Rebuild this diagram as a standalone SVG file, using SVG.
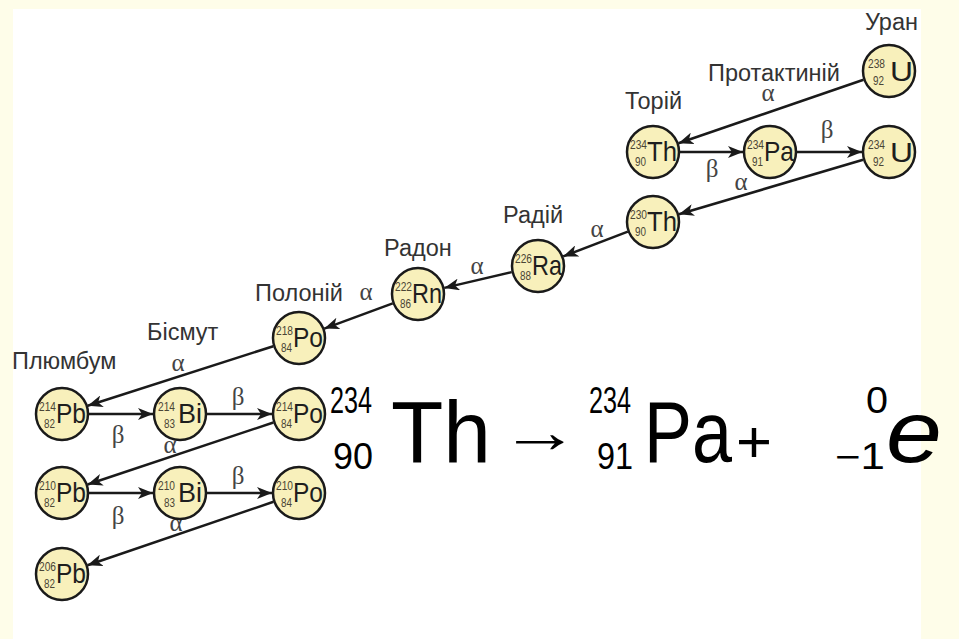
<svg xmlns="http://www.w3.org/2000/svg" width="959" height="639" viewBox="0 0 959 639">
<defs>
<marker id="ah" markerUnits="userSpaceOnUse" markerWidth="16" markerHeight="12" refX="15" refY="6" orient="auto">
<path d="M0,0 L15,6 L0,12 L4,6 z" fill="#1a1a1a"/>
</marker>
<style>
.bg{fill:#fefde9}
.nd circle{fill:#f8f0bb;stroke:#1a1a1a;stroke-width:2.5}
.m{font-family:"Liberation Sans",Arial,sans-serif;font-size:13.5px;fill:#4a4535}
.s{font-family:"Liberation Sans",Arial,sans-serif;font-size:28px;fill:#1e1e1e}
.lbl{font-family:"Liberation Sans",Arial,sans-serif;font-size:23.5px;fill:#333}
.gr{font-family:"Liberation Serif","Times New Roman",serif;font-size:25px;fill:#444;text-anchor:middle}
.cn line{stroke:#1a1a1a;stroke-width:2.5;marker-end:url(#ah)}
.eq{font-family:"Liberation Sans",Arial,sans-serif;fill:#000}
</style>
</defs>
<rect class="bg" x="0" y="0" width="959" height="639"/>
<rect x="13" y="9" width="908" height="630" fill="#ffffff"/>

<g id="connectors" class="cn">
<line x1="863.5" y1="79.8" x2="678.5" y2="143.2"/>
<line x1="680" y1="152" x2="743" y2="152"/>
<line x1="797" y1="152" x2="862" y2="152"/>
<line x1="863.1" y1="159.7" x2="678.9" y2="214.3"/>
<line x1="627.8" y1="231.6" x2="563.2" y2="256.4"/>
<line x1="511.7" y1="272.1" x2="444.3" y2="287.9"/>
<line x1="392.7" y1="303.4" x2="324.3" y2="328.6"/>
<line x1="273.3" y1="346.2" x2="87.7" y2="405.8"/>
<line x1="89" y1="414" x2="153" y2="414"/>
<line x1="207" y1="414" x2="272" y2="414"/>
<line x1="273.4" y1="422.5" x2="87.6" y2="484.5"/>
<line x1="89" y1="493" x2="153" y2="493"/>
<line x1="207" y1="493" x2="272" y2="493"/>
<line x1="273.5" y1="501.8" x2="87.5" y2="565.2"/>
</g>

<g id="decay-labels">
<text class="gr" x="768" y="101">α</text>
<text class="gr" x="712" y="177">β</text>
<text class="gr" x="827" y="138">β</text>
<text class="gr" x="741" y="190">α</text>
<text class="gr" x="597" y="237">α</text>
<text class="gr" x="477" y="274">α</text>
<text class="gr" x="366" y="300">α</text>
<text class="gr" x="178" y="371">α</text>
<text class="gr" x="118" y="443">β</text>
<text class="gr" x="238" y="405">β</text>
<text class="gr" x="170" y="453">α</text>
<text class="gr" x="118" y="524">β</text>
<text class="gr" x="238" y="484">β</text>
<text class="gr" x="176" y="531">α</text>
</g>

<g id="names">
<text class="lbl" x="865" y="30">Уран</text>
<text class="lbl" x="708" y="81">Протактиній</text>
<text class="lbl" x="625" y="109">Торій</text>
<text class="lbl" x="503" y="223">Радій</text>
<text class="lbl" x="384" y="256">Радон</text>
<text class="lbl" x="255" y="301">Полоній</text>
<text class="lbl" x="147" y="340">Бісмут</text>
<text class="lbl" x="12" y="369">Плюмбум</text>
</g>

<g id="n-U238" class="nd"><circle cx="889" cy="71" r="26"/><text class="m" x="868" y="68" textLength="17" lengthAdjust="spacingAndGlyphs">238</text><text class="m" x="873" y="85" textLength="11" lengthAdjust="spacingAndGlyphs">92</text><text class="s" x="890" y="81" font-size="30" textLength="23" lengthAdjust="spacingAndGlyphs">U</text></g>
<g id="n-Th234" class="nd"><circle cx="653" cy="152" r="26"/><text class="m" x="630" y="149" textLength="17" lengthAdjust="spacingAndGlyphs">234</text><text class="m" x="635" y="166" textLength="11" lengthAdjust="spacingAndGlyphs">90</text><text class="s" x="647" y="161" textLength="30" lengthAdjust="spacingAndGlyphs">Th</text></g>
<g id="n-Pa234" class="nd"><circle cx="770" cy="152" r="26"/><text class="m" x="747" y="149" textLength="17" lengthAdjust="spacingAndGlyphs">234</text><text class="m" x="752" y="166" textLength="11" lengthAdjust="spacingAndGlyphs">91</text><text class="s" x="764" y="161" textLength="30" lengthAdjust="spacingAndGlyphs">Pa</text></g>
<g id="n-U234" class="nd"><circle cx="889" cy="152" r="26"/><text class="m" x="868" y="149" textLength="17" lengthAdjust="spacingAndGlyphs">234</text><text class="m" x="873" y="166" textLength="11" lengthAdjust="spacingAndGlyphs">92</text><text class="s" x="890" y="162" font-size="30" textLength="23" lengthAdjust="spacingAndGlyphs">U</text></g>
<g id="n-Th230" class="nd"><circle cx="653" cy="222" r="26"/><text class="m" x="630" y="219" textLength="17" lengthAdjust="spacingAndGlyphs">230</text><text class="m" x="635" y="236" textLength="11" lengthAdjust="spacingAndGlyphs">90</text><text class="s" x="647" y="231" textLength="30" lengthAdjust="spacingAndGlyphs">Th</text></g>
<g id="n-Ra226" class="nd"><circle cx="538" cy="266" r="26"/><text class="m" x="515" y="263" textLength="17" lengthAdjust="spacingAndGlyphs">226</text><text class="m" x="520" y="280" textLength="11" lengthAdjust="spacingAndGlyphs">88</text><text class="s" x="532" y="275" textLength="30" lengthAdjust="spacingAndGlyphs">Ra</text></g>
<g id="n-Rn222" class="nd"><circle cx="418" cy="294" r="26"/><text class="m" x="395" y="291" textLength="17" lengthAdjust="spacingAndGlyphs">222</text><text class="m" x="400" y="308" textLength="11" lengthAdjust="spacingAndGlyphs">86</text><text class="s" x="412" y="303" textLength="30" lengthAdjust="spacingAndGlyphs">Rn</text></g>
<g id="n-Po218" class="nd"><circle cx="299" cy="338" r="26"/><text class="m" x="276" y="335" textLength="17" lengthAdjust="spacingAndGlyphs">218</text><text class="m" x="281" y="352" textLength="11" lengthAdjust="spacingAndGlyphs">84</text><text class="s" x="293" y="347" textLength="30" lengthAdjust="spacingAndGlyphs">Po</text></g>
<g id="n-Pb214" class="nd"><circle cx="62" cy="414" r="26"/><text class="m" x="39" y="411" textLength="17" lengthAdjust="spacingAndGlyphs">214</text><text class="m" x="44" y="428" textLength="11" lengthAdjust="spacingAndGlyphs">82</text><text class="s" x="56" y="423" textLength="30" lengthAdjust="spacingAndGlyphs">Pb</text></g>
<g id="n-Bi214" class="nd"><circle cx="180" cy="414" r="26"/><text class="m" x="158" y="411" textLength="17" lengthAdjust="spacingAndGlyphs">214</text><text class="m" x="164" y="428" textLength="11" lengthAdjust="spacingAndGlyphs">83</text><text class="s" x="178" y="423" textLength="24" lengthAdjust="spacingAndGlyphs">Bi</text></g>
<g id="n-Po214" class="nd"><circle cx="299" cy="414" r="26"/><text class="m" x="276" y="411" textLength="17" lengthAdjust="spacingAndGlyphs">214</text><text class="m" x="281" y="428" textLength="11" lengthAdjust="spacingAndGlyphs">84</text><text class="s" x="293" y="423" textLength="30" lengthAdjust="spacingAndGlyphs">Po</text></g>
<g id="n-Pb210" class="nd"><circle cx="62" cy="493" r="26"/><text class="m" x="39" y="490" textLength="17" lengthAdjust="spacingAndGlyphs">210</text><text class="m" x="44" y="507" textLength="11" lengthAdjust="spacingAndGlyphs">82</text><text class="s" x="56" y="502" textLength="30" lengthAdjust="spacingAndGlyphs">Pb</text></g>
<g id="n-Bi210" class="nd"><circle cx="180" cy="493" r="26"/><text class="m" x="158" y="490" textLength="17" lengthAdjust="spacingAndGlyphs">210</text><text class="m" x="164" y="507" textLength="11" lengthAdjust="spacingAndGlyphs">83</text><text class="s" x="178" y="502" textLength="24" lengthAdjust="spacingAndGlyphs">Bi</text></g>
<g id="n-Po210" class="nd"><circle cx="299" cy="493" r="26"/><text class="m" x="276" y="490" textLength="17" lengthAdjust="spacingAndGlyphs">210</text><text class="m" x="281" y="507" textLength="11" lengthAdjust="spacingAndGlyphs">84</text><text class="s" x="293" y="502" textLength="30" lengthAdjust="spacingAndGlyphs">Po</text></g>
<g id="n-Pb206" class="nd"><circle cx="62" cy="574" r="26"/><text class="m" x="39" y="571" textLength="17" lengthAdjust="spacingAndGlyphs">206</text><text class="m" x="44" y="588" textLength="11" lengthAdjust="spacingAndGlyphs">82</text><text class="s" x="56" y="583" textLength="30" lengthAdjust="spacingAndGlyphs">Pb</text></g>

<g id="equation" class="eq">
<text x="330" y="413" font-size="36" textLength="42" lengthAdjust="spacingAndGlyphs">234</text>
<text x="333" y="469" font-size="36" textLength="40" lengthAdjust="spacingAndGlyphs">90</text>
<text x="391" y="462" font-size="88" textLength="100" lengthAdjust="spacingAndGlyphs">Th</text>
<text x="500" y="452" font-size="60" textLength="80" lengthAdjust="spacingAndGlyphs">→</text>
<text x="589" y="413" font-size="36" textLength="42" lengthAdjust="spacingAndGlyphs">234</text>
<text x="597" y="469" font-size="36" textLength="36" lengthAdjust="spacingAndGlyphs">91</text>
<text x="644" y="462" font-size="88" textLength="88" lengthAdjust="spacingAndGlyphs">Pa</text>
<text x="736" y="462" font-size="60" textLength="36" lengthAdjust="spacingAndGlyphs">+</text>
<text x="866" y="413" font-size="36" textLength="22" lengthAdjust="spacingAndGlyphs">0</text>
<text x="835" y="469" font-size="36" textLength="50" lengthAdjust="spacingAndGlyphs">−1</text>
<text x="886" y="462" font-size="88" font-style="italic" textLength="56" lengthAdjust="spacingAndGlyphs">e</text>
</g>
</svg>
